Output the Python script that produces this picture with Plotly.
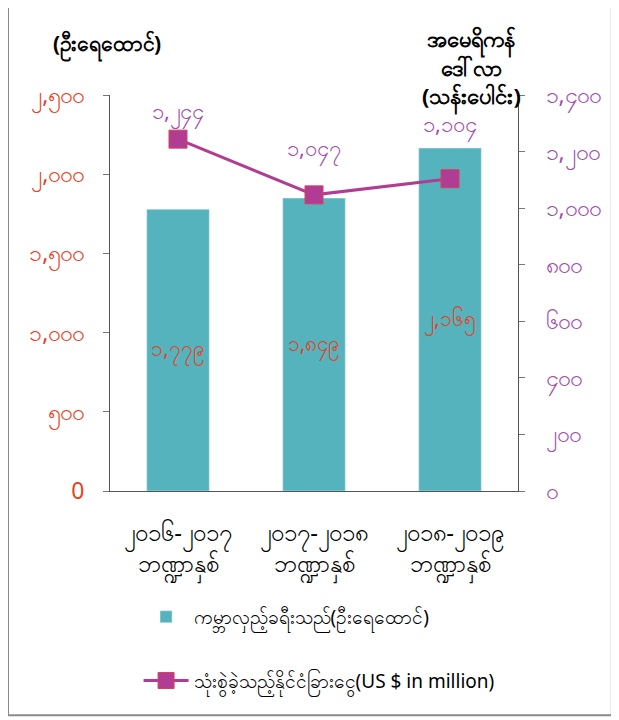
import plotly.graph_objects as go

categories = ["၂၀၁၆-၂၀၁၇<br>ဘဏ္ဍာနှစ်", "၂၀၁၇-၂၀၁၈<br>ဘဏ္ဍာနှစ်", "၂၀၁၈-၂၀၁၉<br>ဘဏ္ဍာနှစ်"]
tourists = [1779, 1849, 2165]
tourist_labels = ["၁,၇၇၉", "၁,၈၄၉", "၂,၁၆၅"]
spending = [1244, 1047, 1104]
spending_labels = ["၁,၂၄၄", "၁,၀၄၇", "၁,၁၀၄"]
left_ticks = [0, 500, 1000, 1500, 2000, 2500]
left_tick_text = ["0", "၅၀၀", "၁,၀၀၀", "၁,၅၀၀", "၂,၀၀၀", "၂,၅၀၀"]
right_ticks = [0, 200, 400, 600, 800, 1000, 1200, 1400]
right_tick_text = ["၀", "၂၀၀", "၄၀၀", "၆၀၀", "၈၀၀", "၁,၀၀၀", "၁,၂၀၀", "၁,၄၀၀"]
bar_name = "ကမ္ဘာလှည့်ခရီးသည်(ဦးရေထောင်)"
line_name = "သုံးစွဲခဲ့သည့်နိုင်ငံခြားငွေ(US $ in million)"
label_shift = [27, 46, 54]

FONT = "Noto Sans, DejaVu Sans, sans-serif"
TEAL = "#55B3BE"
MAG = "#B03C93"
RED = "#E8401C"
PURP = "#A24DAA"

fig = go.Figure()
fig.add_trace(go.Bar(
    x=categories, y=tourists, name=bar_name, marker_color=TEAL, width=0.46,
    legendgroup="bars",
    text=tourist_labels, textposition="inside", insidetextanchor="middle",
    textfont=dict(color=RED, size=21, family=FONT), textangle=0,
))
fig.add_trace(go.Scatter(
    x=categories, y=spending, name=line_name, yaxis="y2", mode="lines+markers",
    legendgroup="line",
    line=dict(color=MAG, width=3),
    marker=dict(symbol="square", size=18, color=MAG, line=dict(color="#D9405A", width=1)),
))
for c, v, t, s in zip(categories, spending, spending_labels, label_shift):
    fig.add_annotation(x=c, y=v, yref="y2", text=t, showarrow=False, yshift=s,
                       font=dict(color=PURP, size=22, family=FONT))

fig.add_annotation(x=-0.007, y=1.126, xref="paper", yref="paper", xanchor="center", yanchor="middle",
                   text="<b>(ဦးရေထောင်)</b>",
                   showarrow=False, font=dict(size=21, color="black", family=FONT))
fig.add_annotation(x=0.887, y=0.945, xref="paper", yref="paper", xanchor="center", yanchor="bottom",
                   text="<b>အမေရိကန်<br>ဒေါ်လာ<br>(သန်းပေါင်း)</b>",
                   showarrow=False, font=dict(size=22, color="black", family=FONT))

fig.add_shape(type="rect", xref="paper", yref="paper", x0=-0.25, x1=1.23, y0=-0.566, y1=1.227,
              line=dict(color="#8a8a8a", width=2))

fig.update_layout(
    width=619, height=720,
    margin=dict(l=102, r=109, t=87, b=237),
    paper_bgcolor="white", plot_bgcolor="white",
    font=dict(family=FONT, color="black"),
    xaxis=dict(showline=True, linecolor="#555", linewidth=1, showgrid=False,
               tickfont=dict(size=24, color="black", family=FONT), ticks="",
               ticklabelstandoff=20),
    yaxis=dict(range=[0, 2500], tickvals=left_ticks, ticktext=left_tick_text,
               showline=True, linecolor="#555", linewidth=1, showgrid=False, zeroline=False,
               ticks="outside", ticklen=6, tickcolor="#777", ticklabelstandoff=14,
               tickfont=dict(size=23, color=RED, family=FONT)),
    yaxis2=dict(range=[0, 1400], tickvals=right_ticks, ticktext=right_tick_text,
                overlaying="y", side="right", showline=True, linecolor="#555", linewidth=1,
                showgrid=False, zeroline=False, ticks="outside", ticklen=6, tickcolor="#777",
                ticklabelstandoff=16,
                tickfont=dict(size=23, color=PURP, family=FONT)),
    showlegend=True,
    legend=dict(x=0.07, xanchor="left", y=-0.27, yanchor="top", orientation="v",
                tracegroupgap=36, font=dict(size=19, color="black", family=FONT),
                traceorder="grouped", itemwidth=45),
    bargap=0.5,
)

fig.write_html("out.html")
